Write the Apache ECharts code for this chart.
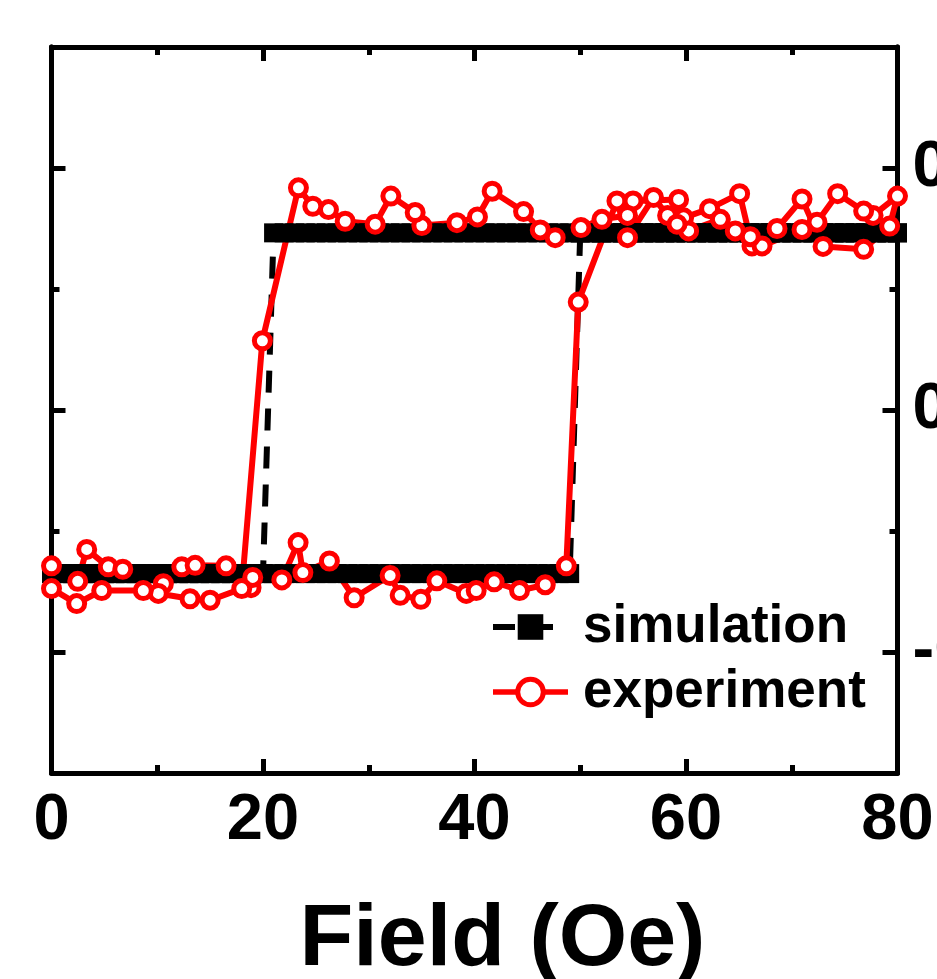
<!DOCTYPE html>
<html>
<head>
<meta charset="utf-8">
<script src="https://cdn.jsdelivr.net/npm/echarts@6/dist/echarts.min.js"></script>
<style>html,body{margin:0;padding:0;background:#fff;}#chart{width:937px;height:979px;}</style>
</head>
<body>
<div id="chart"></div>
<script>
// ---- data ----
const seriesNames = ['simulation', 'experiment'];
const xTicks = [0, 20, 40, 60, 80];
const yTickValues = [-0.5, 0, 0.5];
const yTickLabels = ['-0.5', '0.0', '0.5'];
const yMinorTicks = [-0.25, 0.25];

const L = -0.338, H = 0.366;
const simUpX = [0,1,2,3,4,5,6,7,8,9,10,11,12,13,14,15,16,17,18,19,20,21,22,23,24,25,26,27,28,29,30,31,32,33,34,35,36,37,38,39,40,41,42,43,44,45,46,47,48,49,50,51,52,53,54,55,56,57,58,59,60,61,62,63,64,65,66,67,68,69,70,71,72,73,74,75,76,77,78,79,80];
const simUpY = [L,L,L,L,L,L,L,L,L,L, L,L,L,L,L,L,L,L,L,L, L,L,L,L,L,L,L,L,L,L, L,L,L,L,L,L,L,L,L,L, L,L,L,L,L,L,L,L,L,L, H,H,H,H,H,H,H,H,H,H, H,H,H,H,H,H,H,H,H,H, H,H,H,H,H,H,H,H,H,H, H];
const simDownX = [80,79,78,77,76,75,74,73,72,71,70,69,68,67,66,65,64,63,62,61,60,59,58,57,56,55,54,53,52,51,50,49,48,47,46,45,44,43,42,41,40,39,38,37,36,35,34,33,32,31,30,29,28,27,26,25,24,23,22,21,20,19,18,17,16,15,14,13,12,11,10,9,8,7,6,5,4,3,2,1,0];
const simDownY = [H,H,H,H,H,H,H,H,H,H, H,H,H,H,H,H,H,H,H,H, H,H,H,H,H,H,H,H,H,H, H,H,H,H,H,H,H,H,H,H, H,H,H,H,H,H,H,H,H,H, H,H,H,H,H,H,H,H,H,H, L,L,L,L,L,L,L,L,L,L, L,L,L,L,L,L,L,L,L,L, L];

const expUpX = [0, 2.48, 3.33, 5.37, 6.74, 10.58, 12.32, 13.58, 16.51, 18.87, 19.03, 21.78, 23.32, 23.77, 26.28, 28.62, 32.02, 32.97, 34.93, 36.44, 39.22, 40.16, 41.86, 44.26, 46.69, 48.68, 49.81, 53.47, 54.47, 56.93, 58.26, 59.77, 62.23, 65.07, 66.24, 68.61, 70.97, 72.96, 76.80, 79.26, 80];
const expUpY = [-0.322, -0.354, -0.288, -0.324, -0.329, -0.359, -0.324, -0.321, -0.322, -0.367, -0.346, -0.351, -0.274, -0.336, -0.312, -0.388, -0.342, -0.383, -0.391, -0.353, -0.379, -0.373, -0.355, -0.373, -0.361, -0.322, 0.223, 0.432, 0.356, 0.439, 0.402, 0.397, 0.416, 0.447, 0.339, 0.375, 0.436, 0.338, 0.332, 0.380, 0.442];
const expDownX = [77.69, 76.80, 74.34, 72.39, 70.97, 67.19, 66.08, 64.66, 63.25, 60.25, 59.15, 59.30, 54.99, 54.47, 52.05, 50.07, 47.63, 46.22, 44.64, 41.67, 40.28, 38.34, 35.02, 34.39, 32.09, 30.61, 27.77, 26.19, 24.71, 23.35, 19.94, 17.99, 15.0, 13.10, 10.10, 8.68, 4.75, 2.38, 0];
const expDownY = [0.402, 0.411, 0.447, 0.388, 0.373, 0.339, 0.358, 0.370, 0.394, 0.370, 0.384, 0.435, 0.432, 0.402, 0.394, 0.377, 0.356, 0.372, 0.410, 0.452, 0.399, 0.387, 0.381, 0.408, 0.442, 0.384, 0.390, 0.414, 0.421, 0.459, 0.143, -0.369, -0.393, -0.390, -0.379, -0.373, -0.373, -0.400, -0.369];

// ---- build ----
function pairs(xs, ys) { return xs.map((x, i) => [x, ys[i]]); }
const simData = pairs(simUpX, simUpY).concat(pairs(simDownX, simDownY));
const expData = pairs(expUpX, expUpY).concat(pairs(expDownX, expDownY));

const FONT = '"Liberation Sans", Arial, Helvetica, sans-serif';
const axisLineStyle = { color: '#000', width: 5 };

function xAx(pos, labels) {
  return {
    type: 'value', position: pos, min: 0, max: 80, interval: 20,
    axisLine: { show: true, onZero: false, lineStyle: axisLineStyle },
    axisTick: { show: true, inside: true, length: 14, lineStyle: { color: '#000', width: 5 } },
    minorTick: { show: true, splitNumber: 2, length: 8, lineStyle: { color: '#000', width: 5 } },
    splitLine: { show: false }, minorSplitLine: { show: false },
    axisLabel: labels ? {
      show: true, margin: 16, color: '#000', fontSize: 65, fontWeight: 'bold', fontFamily: FONT,
      customValues: xTicks
    } : { show: false },
    name: labels ? 'Field (Oe)' : '',
    nameLocation: 'middle', nameGap: 124,
    nameTextStyle: { color: '#000', fontSize: 88, fontWeight: 'bold', fontFamily: FONT, padding: [0, 0, 0, 56] }
  };
}
function yAx(pos, ticks, len, labels) {
  return {
    type: 'value', position: pos, min: -0.75, max: 0.75, interval: 0.25,
    axisLine: { show: true, onZero: false, lineStyle: axisLineStyle },
    axisTick: { show: true, inside: true, length: len, customValues: ticks, lineStyle: { color: '#000', width: 5 } },
    splitLine: { show: false },
    axisLabel: labels ? {
      show: true, margin: 15, color: '#000', fontSize: 65, fontWeight: 'bold', fontFamily: FONT,
      customValues: yTickValues,
      formatter: v => yTickLabels[yTickValues.indexOf(Math.round(v * 100) / 100)]
    } : { show: false }
  };
}

const chart = echarts.init(document.getElementById('chart'), null, { renderer: 'canvas' });
chart.setOption({
  animation: false,
  backgroundColor: '#fff',
  grid: { left: 51.5, right: 39.5, top: 47, bottom: 206, containLabel: false, outerBoundsMode: 'none' },
  xAxis: [xAx('bottom', true), xAx('top', false)],
  yAxis: [
    yAx('right', yTickValues, 15, true),
    yAx('left', yTickValues, 14, false),
    yAx('right', yMinorTicks, 8, false),
    yAx('left', yMinorTicks, 8, false)
  ],
  legend: {
    data: [
      { name: seriesNames[0], lineStyle: { color: '#000', width: 6, type: [22, 16] } },
      { name: seriesNames[1], lineStyle: { color: '#ff0000', width: 5.5 }, itemStyle: { color: '#fff', borderColor: '#ff0000', borderWidth: 5 } }
    ],
    orient: 'vertical', left: 485, top: 594,
    itemWidth: 75, itemHeight: 32, itemGap: 9,
    textStyle: { color: '#000', fontSize: 53, fontWeight: 'bold', fontFamily: FONT, lineHeight: 56, padding: [0, 0, 0, 10] }
  },
  series: [
    {
      name: seriesNames[0], type: 'line', xAxisIndex: 0, yAxisIndex: 0,
      data: simData, symbol: 'rect', symbolSize: 19,
      color: '#000',
      itemStyle: { color: '#000' },
      lineStyle: { color: '#000', width: 6, type: [22, 16] }
    },
    {
      name: seriesNames[1], type: 'line', xAxisIndex: 0, yAxisIndex: 0,
      data: expData, symbol: 'circle', symbolSize: 16,
      color: '#ff0000',
      itemStyle: { color: '#fff', borderColor: '#ff0000', borderWidth: 5 },
      lineStyle: { color: '#ff0000', width: 6 }
    }
  ]
});
</script>
</body>
</html>
